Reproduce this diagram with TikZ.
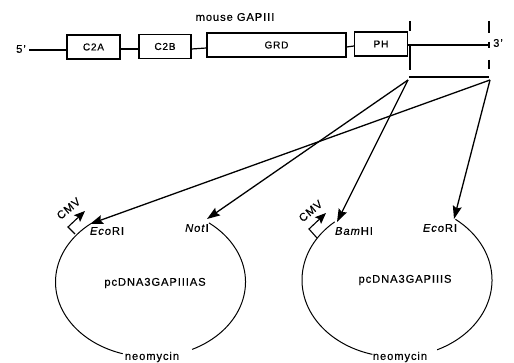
\documentclass[tikz,border=0pt]{standalone}
\usepackage{fontspec}
\setmainfont[LetterSpace=8,FakeBold=0.4]{Liberation Sans}
\usetikzlibrary{arrows.meta}
\tikzset{
  dombox/.style={draw,line width=1.1pt,minimum height=24pt,inner sep=0pt},
  lbl/.style={inner sep=0pt,font=\fontsize{11.2}{13}\selectfont},
  insarrow/.style={-{Stealth[length=13pt,width=9pt,inset=2pt]},line width=1.3pt},
  cmvarrow/.style={-{Stealth[length=11pt,width=9pt,inset=2pt]},line width=1.1pt},
  ringline/.style={line width=1pt},
  geneline/.style={line width=1.2pt}
}
\begin{document}
\begin{tikzpicture}[x=1pt,y=1pt]
    \useasboundingbox (0,0) rectangle (514,362);
    \node[lbl] (title) at (235,345) {mouse GAPIII};
    \node[lbl] (five) at (21,313) {5'};
    \node[lbl] (three) at (498,319) {3'};
    \node[dombox,minimum width=53pt] (c2a) at (93.5,315) {C2A};
    \node[dombox,minimum width=52pt] (c2b) at (165,315.5) {C2B};
    \node[dombox,minimum width=139pt] (grd) at (276.5,317) {GRD};
    \node[dombox,minimum width=53pt] (ph) at (381,318) {PH};
    \coordinate (fiveend) at (29,312);
    \coordinate (threeend) at (489,317);
    \coordinate (dashtopa) at (410,341);
    \coordinate (dashlowa) at (410,292);
    \coordinate (dashtopb) at (489,341);
    \coordinate (dashlowb) at (489,292);
    \coordinate (bara) at (409,285);
    \coordinate (barb) at (489,285);
    \coordinate (fromleft) at (408,282);
    \coordinate (fromright) at (490,282);
    \coordinate (ringa) at (150.5,80);
    \coordinate (ringb) at (397,82);
    \draw[geneline] (fiveend) -- ([yshift=-3pt]c2a.west);
    \draw[geneline] ([yshift=-2pt]c2a.east) -- ([yshift=-2.5pt]c2b.west);
    \draw[geneline] ([yshift=-2.5pt]c2b.east) -- ([yshift=-3pt]grd.west);
    \draw[geneline] ([yshift=-2pt]grd.east) -- ([yshift=-2pt]ph.west);
    \draw[geneline] ([yshift=-1pt]ph.east) -- (threeend);
    \draw[line width=1.3pt,dash pattern=on 10pt off 14pt on 25pt] (dashtopa) -- (dashlowa);
    \draw[line width=1.3pt,dash pattern=on 12pt off 9pt on 6pt off 12pt on 9pt] (dashtopb) -- (dashlowb);
    \draw[line width=1.3pt] (bara) -- (barb);
    \coordinate (tipecoa) at (90,138);
    \coordinate (tipnot) at (207,143);
    \coordinate (tipbam) at (337,140);
    \coordinate (tipecob) at (454,143);
    \draw[insarrow] (fromleft) -- (tipnot);
    \draw[insarrow] (fromleft) -- (tipbam);
    \draw[insarrow] (fromright) -- (tipecoa);
    \draw[insarrow] (fromright) -- (tipecob);
    \draw[ringline] ([shift={(129:95 and 75)}]ringa) arc[start angle=129,end angle=253,x radius=95,y radius=75];
    \draw[ringline] ([shift={(-64:95 and 75)}]ringa) arc[start angle=-64,end angle=52,x radius=95,y radius=75];
    \draw[ringline] ([shift={(131:95 and 77)}]ringb) arc[start angle=131,end angle=255,x radius=95,y radius=77];
    \draw[ringline] ([shift={(-65:95 and 77)}]ringb) arc[start angle=-65,end angle=52,x radius=95,y radius=77];
    \draw[cmvarrow] (75,128) -- (68,135) -- (85,151);
    \draw[cmvarrow] (317,124) -- (309,133) -- (326,149);
    \node[lbl,rotate=40] (cmva) at (68.5,153.5) {CMV};
    \node[lbl,rotate=40] (cmvb) at (310.5,151) {CMV};
    \node[lbl] (ecoa) at (107,131) {\textit{Eco}RI};
    \node[lbl] (noti) at (197,134) {\textit{Not}I};
    \node[lbl] (bam) at (354,131) {\textit{Bam}HI};
    \node[lbl] (ecob) at (440,134) {\textit{Eco}RI};
    \node[lbl] (nameas) at (155,79) {pcDNA3GAPIIIAS};
    \node[lbl] (names) at (405,82) {pcDNA3GAPIIIS};
    \node[lbl] (neoa) at (152,5) {neomycin};
    \node[lbl] (neob) at (400,5) {neomycin};
\end{tikzpicture}
\end{document}
